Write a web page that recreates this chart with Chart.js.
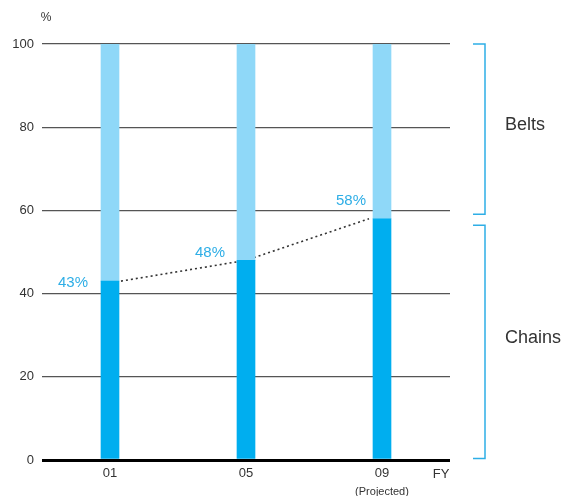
<!DOCTYPE html>
<html>
<head>
<meta charset="utf-8">
<script src="https://cdn.jsdelivr.net/npm/chart.js@4/dist/chart.umd.min.js"></script>
<style>
  html, body { margin: 0; padding: 0; background: #fff; }
  #wrap { width: 565px; height: 496px; position: relative; }
</style>
</head>
<body>
<div id="wrap"><canvas id="chart" width="565" height="496"></canvas></div>
<script>
// Fiscal years and sub-captions under the axis
const years = ['01', '05', '09'];
const yearNotes = ['', '', '(Projected)'];

// Sales composition, % of total
const chainsShare = [43, 48, 58];
const beltsShare = [57, 52, 42];

// Y axis ticks
const yTicks = [0, 20, 40, 60, 80, 100];

const BLUE_DARK = '#00aeef';
const BLUE_LIGHT = '#8fd8f8';
const BLUE_TEXT = '#2eaee6';
const INK = '#333333';
const FONT = '"Liberation Sans", Arial, sans-serif';

// Dotted trend line across the tops of the chain bars (drawn under the bars)
const trendLine = {
  id: 'trendLine',
  beforeDatasetsDraw(chart) {
    const bars = chart.getDatasetMeta(0).data;
    if (!bars.length) return;
    const ctx = chart.ctx;
    const last = bars.length - 1;
    ctx.save();
    ctx.strokeStyle = '#333';
    ctx.lineWidth = 1.6;
    ctx.setLineDash([2, 3]);
    ctx.beginPath();
    bars.forEach((b, i) => {
      let x = b.x;
      if (i === 0) x = b.x + b.width / 2 + 2;
      if (i === last) x = b.x - b.width / 2 - 4;
      if (i === 0) ctx.moveTo(x, b.y); else ctx.lineTo(x, b.y);
    });
    ctx.stroke();
    ctx.restore();
  }
};

// Value labels, brackets, unit and axis captions
const annotations = {
  id: 'annotations',
  afterDraw(chart) {
    const ctx = chart.ctx;
    const { x: xs, y: ys } = chart.scales;
    const area = chart.chartArea;
    const bars = chart.getDatasetMeta(0).data;
    const offsets = [[-13, 6], [-12, -3.5], [-7, -13.5]];
    ctx.save();

    // percentage labels beside the chain bars
    ctx.font = '15px ' + FONT;
    ctx.fillStyle = BLUE_TEXT;
    ctx.textAlign = 'right';
    ctx.textBaseline = 'alphabetic';
    bars.forEach((b, i) => {
      const [dx, dy] = offsets[i];
      ctx.fillText(chainsShare[i] + '%', b.x - b.width / 2 + dx, b.y + dy);
    });

    // brackets on the right
    const split = chainsShare[chainsShare.length - 1];
    const bx0 = 473, bx1 = 485;
    const bracket = (top, bottom) => {
      ctx.beginPath();
      ctx.moveTo(bx0, top);
      ctx.lineTo(bx1, top);
      ctx.lineTo(bx1, bottom);
      ctx.lineTo(bx0, bottom);
      ctx.stroke();
    };
    ctx.strokeStyle = BLUE_TEXT;
    ctx.lineWidth = 1.5;
    const beltsTop = ys.getPixelForValue(100);
    const beltsBottom = ys.getPixelForValue(split) - 4.5;
    const chainsTop = ys.getPixelForValue(split) + 6.5;
    const chainsBottom = ys.getPixelForValue(0) - 1.5;
    bracket(beltsTop, beltsBottom);
    bracket(chainsTop, chainsBottom);

    ctx.font = '18px ' + FONT;
    ctx.fillStyle = INK;
    ctx.textAlign = 'left';
    ctx.textBaseline = 'alphabetic';
    ctx.fillText('Belts', 505, (beltsTop + beltsBottom) / 2 + 1);
    ctx.fillText('Chains', 505, (chainsTop + chainsBottom) / 2 + 1);

    // unit and axis captions
    ctx.font = '12px ' + FONT;
    ctx.textAlign = 'center';
    ctx.textBaseline = 'middle';
    ctx.fillText('%', 46, 18);
    ctx.font = '13px ' + FONT;
    ctx.fillText('FY', 441, 474);
    ctx.font = '11px ' + FONT;
    yearNotes.forEach((note, i) => {
      if (note) ctx.fillText(note, xs.getPixelForTick(i), 491.5);
    });
    ctx.restore();
  }
};

new Chart(document.getElementById('chart'), {
  type: 'bar',
  data: {
    labels: years,
    datasets: [
      { label: 'Chains', data: chainsShare, backgroundColor: BLUE_DARK, barThickness: 18 },
      { label: 'Belts', data: beltsShare, backgroundColor: BLUE_LIGHT, barThickness: 18 }
    ]
  },
  options: {
    responsive: false,
    animation: false,
    devicePixelRatio: 1,
    layout: { padding: { top: 44, right: 115, left: 0, bottom: 0 } },
    plugins: {
      legend: { display: false },
      tooltip: { enabled: false }
    },
    scales: {
      x: {
        stacked: true,
        grid: { display: false, drawTicks: false },
        border: { display: false },
        ticks: { color: INK, font: { family: FONT, size: 13 }, padding: 6, maxRotation: 0 },
        afterFit(scale) { scale.height = 36; }
      },
      y: {
        stacked: true,
        min: 0,
        max: 100,
        afterBuildTicks(scale) { scale.ticks = yTicks.map(v => ({ value: v })); },
        grid: {
          drawTicks: false,
          color: ctx => ctx.tick && ctx.tick.value === 0 ? '#000' : '#555',
          lineWidth: ctx => ctx.tick && ctx.tick.value === 0 ? 3 : 1.2
        },
        border: { display: false },
        ticks: { color: INK, font: { family: FONT, size: 13 }, padding: 8 },
        afterFit(scale) { scale.width = 42; }
      }
    }
  },
  plugins: [trendLine, annotations]
});
</script>
</body>
</html>
